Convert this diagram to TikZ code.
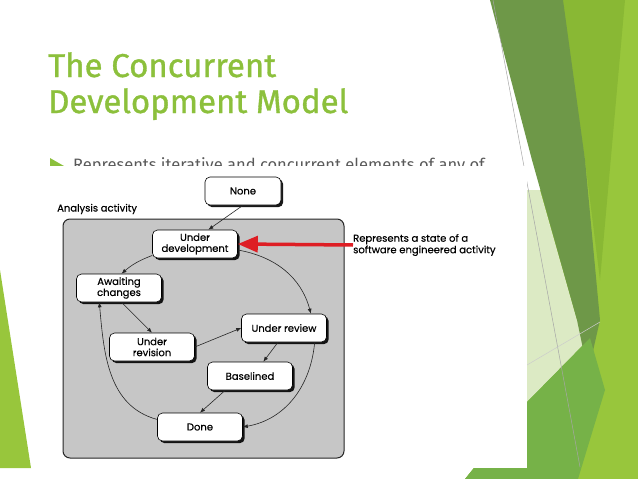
\documentclass[tikz,border=0pt]{standalone}
\usepackage{fontspec}
\setmainfont{Fira Sans}
\newfontfamily\titlefont{Fira Sans}[FakeBold=1]
\newfontfamily\diagfont{Poppins}[FakeBold=0.4]
\usetikzlibrary{arrows.meta,positioning,shadows}
\definecolor{fcgreen}{RGB}{140,192,60}
\definecolor{fcdark}{RGB}{110,152,72}
\definecolor{fcmid}{RGB}{137,184,52}
\definecolor{fclight}{RGB}{152,198,60}
\definecolor{fcpale}{RGB}{220,234,196}
\definecolor{fclow}{RGB}{118,178,72}
\definecolor{fctext}{RGB}{89,89,89}
\definecolor{boxgray}{RGB}{198,198,198}
\definecolor{markred}{RGB}{222,30,36}
\tikzset{
    statebox/.style={
        draw=black, semithick, rounded corners=5pt, fill=white,
        minimum width=85pt, minimum height=28pt, inner sep=1pt,
        align=center, font=\diagfont\fontsize{10}{11}\selectfont,
        drop shadow={shadow xshift=2.2pt, shadow yshift=-2.2pt, fill=black, opacity=0.9}
    },
    flow/.style={
        -{Latex[length=5pt,width=4pt]}, semithick, draw=black!85
    }
}

\begin{document}
\begin{tikzpicture}[x=1pt, y=1pt]
    \useasboundingbox (0,0) rectangle (638,-479);
    % theme background
    \fill[fclight] (560,0) rectangle (638,-479);
    \fill[fclight] (465,-479) -- (527,-402) -- (527,-190) -- (560,-190) -- (560,-479) -- cycle;
    \fill[fcmid] (560,0) -- (625,0) -- (600,-280) -- (585,-160) -- cycle;
    \fill[fcpale] (527,-190) -- (540,-190) -- (577,-320) -- (590,-338) -- (527,-402) -- cycle;
    \fill[fcdark] (490,0) -- (563,0) -- (585,-160) -- (600,-320) -- (588,-373) -- (577,-320) -- (532,-160) -- cycle;
    \fill[fclow] (465,-479) -- (527,-402) -- (590,-338) -- (605,-390) -- (578,-479) -- cycle;
    \fill[fclight] (0,-270) -- (31,-468) -- (0,-468) -- cycle;
    \draw[gray!70, line width=0.5pt] (493,0) -- (580,-467);
    \draw[gray!40, line width=0.5pt] (527,-365) -- (600,-322);
    % title and bullet
    \node[anchor=base west, inner sep=0, align=left, text=fcgreen, font=\titlefont\fontsize{33}{36}\selectfont] (title) at (48,-113) {The Concurrent\\Development Model};
    \fill[fcgreen] (50,-158) -- (64,-166) -- (50,-174) -- cycle;
    \node[anchor=base west, inner sep=0, text=fctext, font=\fontsize{16.5}{20}\selectfont] (bullet) at (73,-170) {Represents iterative and concurrent elements of any of};
    % pasted figure
    \fill[white] (40,-166) rectangle (527,-468);
    \draw[black!85, line width=1pt, fill=boxgray, rounded corners=7pt] (63,-219) rectangle (344,-458);
    \node[anchor=west, inner sep=0, font=\diagfont\fontsize{10}{12}\selectfont] (activity) at (57,-209) {Analysis activity};
    \node[statebox, minimum width=76pt] (none) at (243,-191) {None};
    \node[statebox] (dev) at (195,-244) {Under\\development};
    \node[statebox] (await) at (119,-288) {Awaiting\\changes};
    \node[statebox] (revision) at (152,-347) {Under\\revision};
    \node[statebox] (review) at (284,-328) {Under review};
    \node[statebox] (base) at (250,-376) {Baselined};
    \node[statebox] (done) at (200,-427) {Done};
    \draw[flow] (none.south) -- (dev.47);
    \draw[flow] (dev.-165) to[bend right=10] (await.80);
    \draw[flow] (dev.-8) to[out=-10, in=105] (review.28);
    \draw[flow] (await.-80) -- (revision.north);
    \draw[flow] (revision.east) -- (review.west);
    \draw[flow] (review.-113) -- (base.47);
    \draw[flow] (base.-150) -- (done.north);
    \draw[flow] (review.-25) to[out=-95, in=10] (done.east);
    \draw[flow] (done.170) to[out=165, in=-85] (await.-144);
    % callout
    \node[anchor=west, inner sep=0, align=left, font=\diagfont\fontsize{10}{11.5}\selectfont] (note) at (353,-245) {Represents a state of a\\software engineered activity};
    \draw[markred, line width=3.5pt, -{Triangle[length=20pt,width=16pt]}] (note.west) -- (dev.east);
\end{tikzpicture}
\end{document}
